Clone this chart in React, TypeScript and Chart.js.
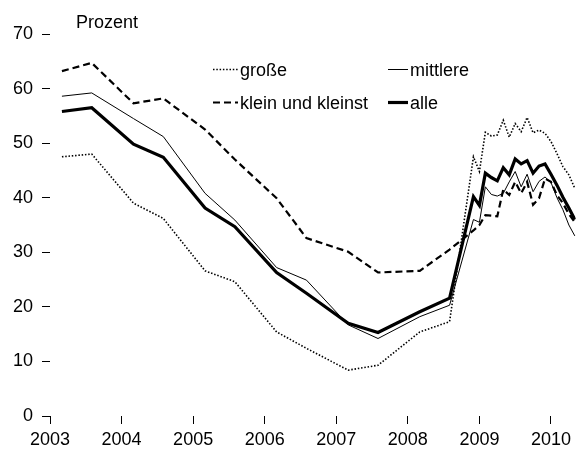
import { useEffect, useRef } from 'react';
import { Chart, registerables } from 'chart.js';

Chart.register(...registerables);

const FONT = '"Liberation Sans", Arial, Helvetica, sans-serif';

// Survey periods (semi-annual until Aug 2008, monthly afterwards)
const periods = [
  '2003-03', '2003-08', '2004-03', '2004-08', '2005-03', '2005-08',
  '2006-03', '2006-08', '2007-03', '2007-08', '2008-03', '2008-08',
  '2008-12', '2009-01', '2009-02', '2009-03', '2009-04', '2009-05',
  '2009-06', '2009-07', '2009-08', '2009-09', '2009-10', '2009-11',
  '2009-12', '2010-01', '2010-02', '2010-03', '2010-04', '2010-05',
];

const grosse = [
  47.5, 48.0, 39.0, 36.2, 26.6, 24.6, 15.4, 12.4, 8.4, 9.3, 15.4, 17.3,
  47.5, 44.8, 52.0, 51.3, 51.5, 54.2, 51.1, 53.6, 52.1, 54.7, 51.9, 52.4,
  51.8, 50.3, 48.1, 45.7, 44.2, 41.7,
];

const mittlere = [
  58.6, 59.2, 54.5, 51.2, 40.8, 35.9, 27.2, 24.9, 16.7, 14.2, 18.2, 20.3,
  36.0, 35.5, 42.0, 40.6, 40.3, 40.8, 42.9, 44.8, 42.0, 44.3, 41.1, 43.0,
  43.8, 42.8, 40.0, 37.8, 35.0, 33.0,
];

const kleinUndKleinst = [
  63.2, 64.7, 57.3, 58.2, 52.5, 47.0, 39.9, 32.6, 30.1, 26.3, 26.6, 30.5,
  34.0, 35.0, 36.8, 36.7, 36.6, 41.5, 40.5, 42.9, 40.8, 42.9, 38.7, 39.9,
  43.5, 42.9, 40.5, 39.0, 37.0, 35.5,
];

const alle = [
  55.8, 56.5, 49.8, 47.4, 38.1, 34.7, 26.3, 22.5, 17.0, 15.3, 19.1, 21.6,
  40.2, 38.6, 44.5, 43.7, 43.1, 45.5, 44.2, 47.1, 46.2, 46.8, 44.5, 45.8,
  46.2, 44.3, 42.3, 40.1, 38.1, 36.0,
];

const seriesNames = ['große', 'mittlere', 'klein und kleinst', 'alle'];
const yAxisTitle = 'Prozent';
const xMin = 2003;
const xMax = 2010.345;
const yMin = 0;
const yMax = 70;

function toYear(p: string): number {
  const [y, m] = p.split('-').map(Number);
  return y + (m - 1) / 12;
}

function pts(values: number[]) {
  return periods.map((p, i) => ({ x: toYear(p), y: values[i] }));
}

const styles = [
  { width: 1.6, dash: [1.5, 1.8] },
  { width: 1, dash: [] as number[] },
  { width: 2.2, dash: [7, 4] },
  { width: 3.2, dash: [] as number[] },
];

const overlayPlugin = {
  id: 'overlay',
  afterDraw(chart: any) {
    const ctx = chart.ctx as CanvasRenderingContext2D;
    ctx.save();
    ctx.fillStyle = '#000';
    ctx.strokeStyle = '#000';
    ctx.font = `18px ${FONT}`;
    ctx.textBaseline = 'alphabetic';
    ctx.textAlign = 'left';
    ctx.fillText(yAxisTitle, 76, 28);

    const cells = [
      { idx: 0, x: 213, y: 69.5, base: 75.5 },
      { idx: 1, x: 388, y: 69.5, base: 75.5 },
      { idx: 2, x: 213, y: 102.5, base: 109 },
      { idx: 3, x: 388, y: 102.5, base: 109 },
    ];
    for (const c of cells) {
      const st = styles[c.idx];
      const len = c.idx % 2 === 0 ? 25 : 20;
      ctx.beginPath();
      ctx.lineWidth = st.width;
      ctx.setLineDash(st.dash);
      ctx.moveTo(c.x, c.y);
      ctx.lineTo(c.x + len, c.y);
      ctx.stroke();
      ctx.setLineDash([]);
      ctx.fillText(seriesNames[c.idx], c.x + len + 2, c.base);
    }
    ctx.restore();
  },
};

export default function App() {
  const ref = useRef<HTMLCanvasElement | null>(null);

  useEffect(() => {
    document.body.style.margin = '0';
    const canvas = ref.current;
    if (!canvas) return;
    const all = [grosse, mittlere, kleinUndKleinst, alle];
    const chart = new Chart(canvas, {
      type: 'line',
      data: {
        datasets: all.map((vals, i) => ({
          label: seriesNames[i],
          data: pts(vals),
          borderColor: '#000',
          backgroundColor: '#000',
          borderWidth: styles[i].width,
          borderDash: styles[i].dash,
          pointRadius: 0,
          tension: 0,
          fill: false,
        })),
      },
      options: {
        responsive: false,
        animation: false,
        devicePixelRatio: 1,
        layout: { padding: { top: 34, right: 0, left: 0, bottom: 0 } },
        plugins: {
          legend: { display: false },
          tooltip: { enabled: false },
        },
        scales: {
          x: {
            type: 'linear',
            min: xMin,
            max: xMax,
            grid: {
              display: true,
              drawOnChartArea: false,
              drawTicks: true,
              tickLength: 8,
              color: '#000',
              lineWidth: 1,
            },
            border: { display: false },
            ticks: {
              stepSize: 1,
              includeBounds: false,
              autoSkip: false,
              maxRotation: 0,
              padding: 5,
              color: '#000',
              font: { family: FONT, size: 18 },
              callback: (v: any) => String(v),
            },
            afterFit: (scale: any) => {
              scale.height = 34;
            },
          },
          y: {
            min: yMin,
            max: yMax,
            grid: {
              display: true,
              drawOnChartArea: false,
              drawTicks: true,
              tickLength: 8,
              color: '#000',
              lineWidth: 1,
            },
            border: { display: false },
            ticks: {
              stepSize: 10,
              padding: 9,
              color: '#000',
              font: { family: FONT, size: 18 },
              callback: (v: any) => String(v),
            },
            afterFit: (scale: any) => {
              scale.width = 50;
            },
          },
        },
      },
      plugins: [overlayPlugin],
    } as any);
    return () => chart.destroy();
  }, []);

  return (
    <div style={{ position: 'fixed', left: 0, top: 0, width: 576, height: 450, background: '#fff' }}>
      <canvas ref={ref} width={576} height={450} />
    </div>
  );
}
